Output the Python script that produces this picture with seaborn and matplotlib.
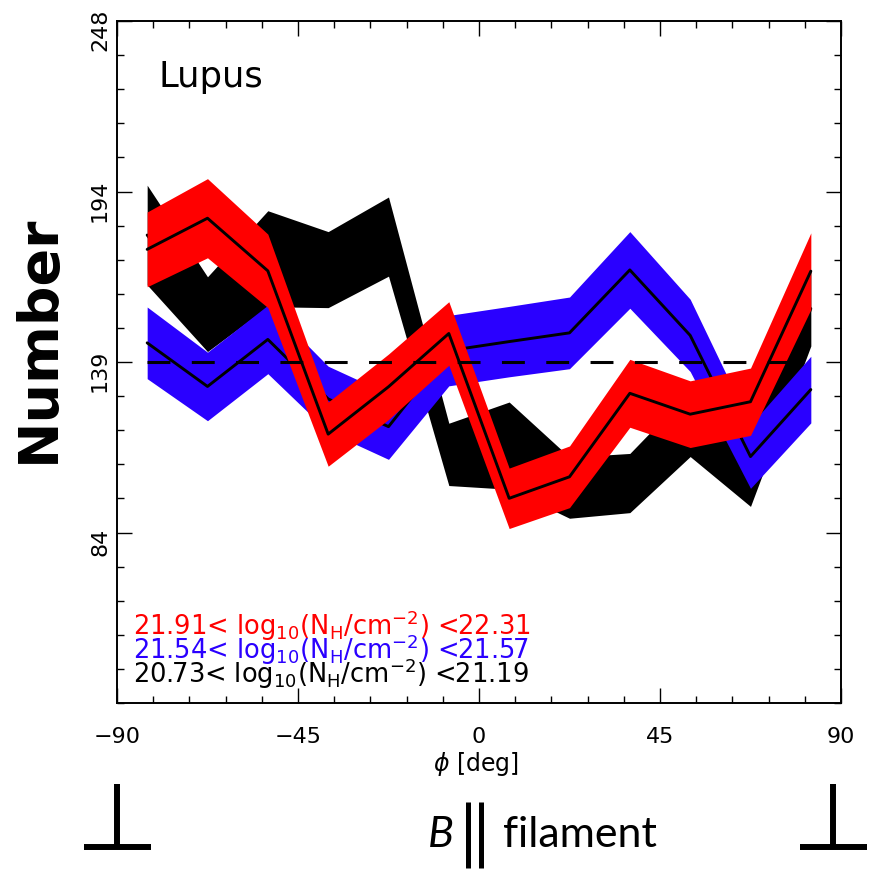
import numpy as np
import pandas as pd
import matplotlib
matplotlib.use("Agg")
import matplotlib.pyplot as plt
import seaborn as sns
from matplotlib.lines import Line2D
from matplotlib.transforms import ScaledTranslation

# ---------------- data ----------------
phi = [-82.5, -67.5, -52.5, -37.5, -22.5, -7.5, 7.5, 22.5, 37.5, 52.5, 67.5, 82.5]

red_val = [175.0, 185.0, 168.1, 115.7, 130.9, 148.0, 95.1, 102.0, 128.8, 122.1, 126.1, 168.0]
red_err = [12.0, 12.7, 11.8, 10.3, 10.5, 10.2, 9.7, 9.9, 10.9, 10.7, 10.8, 12.3]

blue_val = [145.0, 131.0, 146.1, 127.0, 118.1, 142.5, 145.4, 148.2, 168.4, 147.4, 108.5, 130.0]
blue_err = [11.5, 11.0, 11.0, 10.5, 10.5, 11.3, 11.3, 11.5, 12.3, 11.6, 10.2, 10.7]

black_val = [179.6, 154.2, 172.0, 168.5, 179.1, 109.2, 112.0, 98.5, 100.0, 119.0, 105.0, 156.0]
black_err = [16.0, 12.0, 15.4, 12.2, 12.7, 10.0, 14.0, 9.8, 9.5, 10.5, 12.5, 12.0]

mean_level = 138.85

legend_labels = [
    r"21.91< log$_{10}$(N$_{\rm H}$/cm$^{-2}$) <22.31",
    r"21.54< log$_{10}$(N$_{\rm H}$/cm$^{-2}$) <21.57",
    r"20.73< log$_{10}$(N$_{\rm H}$/cm$^{-2}$) <21.19",
]
region = "Lupus"

x_ticks = [-90, -45, 0, 45, 90]
y_min, y_max = 29.4, 248.3
y_tick_labels = ["84", "139", "194", "248"]

RED = "#ff0000"
BLUE = "#2a00ff"
BLACK = "#000000"

# ---------------- style ----------------
sns.set_style("white")
plt.rcParams["font.family"] = ["DejaVu Sans"]
plt.rcParams["mathtext.fontset"] = "dejavusans"
plt.rcParams["text.color"] = "black"
plt.rcParams["axes.labelcolor"] = "black"
plt.rcParams["xtick.color"] = "black"
plt.rcParams["ytick.color"] = "black"

fig = plt.figure(figsize=(8.73, 8.69), dpi=100)
ax = fig.add_axes([117 / 873, 166 / 869, 724 / 873, 682 / 869])

series = [
    (black_val, black_err, BLACK),
    (blue_val, blue_err, BLUE),
    (red_val, red_err, RED),
]
for i, (vals, errs, col) in enumerate(series):
    v = np.asarray(vals)
    e = np.asarray(errs)
    ax.fill_between(phi, v - e, v + e, color=col, linewidth=0, zorder=2 + i)
    df = pd.DataFrame({"phi": phi, "N": vals})
    sns.lineplot(data=df, x="phi", y="N", color="black", linewidth=2.1,
                 ax=ax, zorder=2.5 + i, legend=False)

ax.plot([phi[0], phi[-1]], [mean_level, mean_level], color="black",
        linewidth=2.2, dashes=(7.5, 7.0), zorder=8)

# ---------------- axes ----------------
ax.set_xlim(-90, 90)
ax.set_ylim(y_min, y_max)
ax.set_xticks(x_ticks)
ax.set_xticklabels(["\u221290", "\u221245", "0", "45", "90"])
ax.set_xticks(np.arange(-90, 91, 9), minor=True)
step = (y_max - y_min) / 4
ax.set_yticks([y_min + step * k for k in range(1, 5)])
ax.set_yticklabels(y_tick_labels, rotation=90, va="center")
ax.set_yticks(np.arange(y_min, y_max + 0.01, step / 5), minor=True)

ax.tick_params(which="both", direction="in", top=True, right=True,
               bottom=True, left=True, color="black", width=1.0)
ax.tick_params(which="major", length=10.5)
ax.tick_params(which="minor", length=5)
ax.tick_params(axis="x", which="major", labelsize=16, pad=17)
ax.tick_params(axis="y", which="major", labelsize=16, pad=5)
for sp in ax.spines.values():
    sp.set_linewidth(1.4)
    sp.set_color("black")
    sp.set_zorder(10)

off = ScaledTranslation(0, -0.09, fig.dpi_scale_trans)
for lab in ax.get_yticklabels():
    lab.set_transform(lab.get_transform() + off)

ax.set_xlabel(r"$\phi$ [deg]", fontsize=17, color="black")
ax.xaxis.set_label_coords((476 - 117) / 724, (703 - 750) / 682)
ax.set_ylabel("")

fig.text(39 / 873, 1 - 339 / 869, "Number", rotation=90, ha="center",
         va="center", fontsize=40, fontweight="bold", color="black")

ax.text((159 - 117) / 724, (703 - 87) / 682, region, transform=ax.transAxes,
        fontsize=25.5, ha="left", va="baseline", color="black")

for lab, col, yb in zip(legend_labels, [RED, BLUE, BLACK], [635, 659, 683]):
    ax.text((133 - 117) / 724, (703 - yb) / 682, lab, transform=ax.transAxes,
            color=col, fontsize=18.5, ha="left", va="baseline", zorder=9)

# ---------------- bottom annotation ----------------
def fx(px):
    return px / 873

def fy(py):
    return 1 - py / 869

def seg(x0, y0, x1, y1, lw):
    fig.add_artist(Line2D([fx(x0), fx(x1)], [fy(y0), fy(y1)],
                          transform=fig.transFigure, color="black",
                          linewidth=lw, solid_capstyle="butt"))

lw_perp = 4.3
for xc, x0, x1 in [(117.3, 84, 150.7), (832.7, 800, 866.7)]:
    seg(xc, 784, xc, 847, lw_perp)
    seg(x0, 846.7, x1, 846.7, lw_perp)

seg(467.5, 802, 467.5, 868, 3.6)
seg(480.5, 802, 480.5, 868, 3.6)

fig.text(fx(428), fy(847), "B", fontsize=31, style="italic",
         family=["Lato", "DejaVu Sans"], ha="left", va="baseline",
         color="black")
fig.text(fx(503), fy(847), "filament", fontsize=31,
         family=["Lato", "DejaVu Sans"], ha="left", va="baseline",
         color="black")

fig.savefig("out.png", dpi=100)
